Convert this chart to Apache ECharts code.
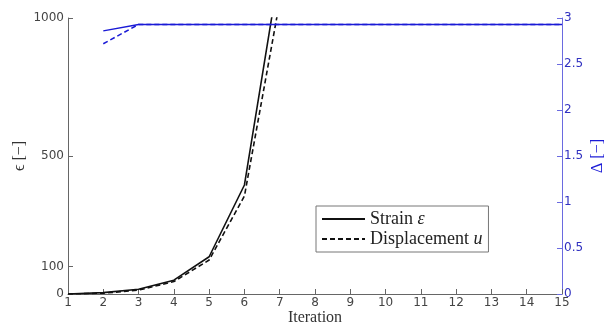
<!DOCTYPE html>
<html>
<head>
<meta charset="utf-8">
<script src="https://cdn.jsdelivr.net/npm/echarts@6/dist/echarts.min.js"></script>
<style>
  html, body { margin: 0; padding: 0; background: #fff; }
  #chart { width: 606px; height: 327px; }
</style>
</head>
<body>
<div id="chart"></div>
<script>
// values
const iterations = [1, 2, 3, 4, 5, 6, 7];
const strain = [0, 5, 17, 50, 135, 395, 1180];
const displacement = [0, 3, 14, 45, 123, 355, 1060];

const deltaIterations = [2, 3, 4, 5, 6, 7, 8, 9, 10, 11, 12, 13, 14, 15];
const deltaStrain = [2.86, 2.93, 2.93, 2.93, 2.93, 2.93, 2.93, 2.93, 2.93, 2.93, 2.93, 2.93, 2.93, 2.93];
const deltaDisplacement = [2.72, 2.93, 2.93, 2.93, 2.93, 2.93, 2.93, 2.93, 2.93, 2.93, 2.93, 2.93, 2.93, 2.93];

const leftTicks = [0, 100, 500, 1000];

const pairs = (xs, ys) => xs.map((x, i) => [x, ys[i]]);

const chart = echarts.init(document.getElementById('chart'), null, { renderer: 'canvas' });

const axisGray = '#666';
const labelGray = '#444';
const blue = '#1a1ad6';
const axisBlue = '#6a6ae0';

chart.setOption({
  animation: false,
  backgroundColor: '#fff',
  grid: { left: 68, right: 44, top: 18, bottom: 33, containLabel: false, outerBoundsMode: 'none' },
  legend: {
    data: ['Strain ε', 'Displacement u'],
    orient: 'vertical',
    left: 316,
    top: 206,
    width: 179,
    padding: [4, 6, 4, 5],
    itemGap: 2,
    itemWidth: 43,
    itemHeight: 17,
    backgroundColor: '#fff',
    borderColor: '#777',
    borderWidth: 1,
    borderRadius: 0,
    itemStyle: { opacity: 0 },
    textStyle: {
      fontFamily: 'Liberation Serif',
      fontSize: 18,
      color: '#222',
      rich: {
        t: { fontFamily: 'Liberation Serif', fontSize: 18, color: '#222' },
        i: { fontFamily: 'Liberation Serif', fontSize: 18, fontStyle: 'italic', color: '#222' }
      }
    },
    formatter: name => {
      const parts = name.split(' ');
      const sym = parts.pop();
      return '{t|' + parts.join(' ') + ' }{i|' + sym + '}';
    }
  },
  xAxis: {
    type: 'value',
    min: 1,
    max: 15,
    interval: 1,
    name: 'Iteration',
    nameLocation: 'middle',
    nameGap: 16,
    nameMoveOverlap: false,
    nameTextStyle: { fontFamily: 'Liberation Serif', fontSize: 16, color: '#333' },
    axisLine: { lineStyle: { color: axisGray, width: 1 } },
    axisTick: { inside: true, length: 5, lineStyle: { color: axisGray } },
    axisLabel: { margin: 3, fontFamily: 'DejaVu Sans', fontSize: 12, color: labelGray },
    splitLine: { show: false }
  },
  yAxis: [
    {
      type: 'value',
      min: 0,
      max: 1000,
      name: 'ϵ [−]',
      nameLocation: 'middle',
      nameRotate: 90,
      nameGap: 40,
      nameMoveOverlap: false,
      nameTextStyle: { fontFamily: 'Liberation Serif', fontSize: 16, color: '#333' },
      axisLine: { show: true, lineStyle: { color: axisGray, width: 1 } },
      axisTick: { show: true, inside: true, length: 5, customValues: leftTicks, lineStyle: { color: axisGray } },
      axisLabel: {
        margin: 4,
        customValues: leftTicks,
        formatter: v => String(v),
        fontFamily: 'DejaVu Sans',
        fontSize: 12,
        color: labelGray
      },
      splitLine: { show: false }
    },
    {
      type: 'value',
      min: 0,
      max: 3,
      interval: 0.5,
      position: 'right',
      name: 'Δ [−]',
      nameLocation: 'middle',
      nameRotate: 90,
      nameGap: 28,
      nameMoveOverlap: false,
      nameTextStyle: { fontFamily: 'Liberation Serif', fontSize: 16, color: blue },
      axisLine: { show: true, lineStyle: { color: axisBlue, width: 1 } },
      axisTick: { show: true, inside: true, length: 5, lineStyle: { color: axisBlue } },
      axisLabel: { margin: 2, fontFamily: 'DejaVu Sans', fontSize: 12, color: '#3030c0' },
      splitLine: { show: false }
    }
  ],
  series: [
    {
      name: 'Strain ε',
      type: 'line',
      yAxisIndex: 0,
      data: pairs(iterations, strain),
      symbol: 'none',
      clip: true,
      lineStyle: { color: '#111', width: 1.6, type: 'solid' },
      itemStyle: { color: '#111' }
    },
    {
      name: 'Displacement u',
      type: 'line',
      yAxisIndex: 0,
      data: pairs(iterations, displacement),
      symbol: 'none',
      clip: true,
      lineStyle: { color: '#111', width: 1.6, type: [5, 3] },
      itemStyle: { color: '#111' }
    },
    {
      name: 'Δ strain',
      type: 'line',
      yAxisIndex: 1,
      data: pairs(deltaIterations, deltaStrain),
      symbol: 'none',
      lineStyle: { color: blue, width: 1.5, type: 'solid' },
      itemStyle: { color: blue }
    },
    {
      name: 'Δ displacement',
      type: 'line',
      yAxisIndex: 1,
      data: pairs(deltaIterations, deltaDisplacement),
      symbol: 'none',
      lineStyle: { color: blue, width: 1.5, type: [5, 3] },
      itemStyle: { color: blue }
    }
  ]
});
</script>
</body>
</html>
